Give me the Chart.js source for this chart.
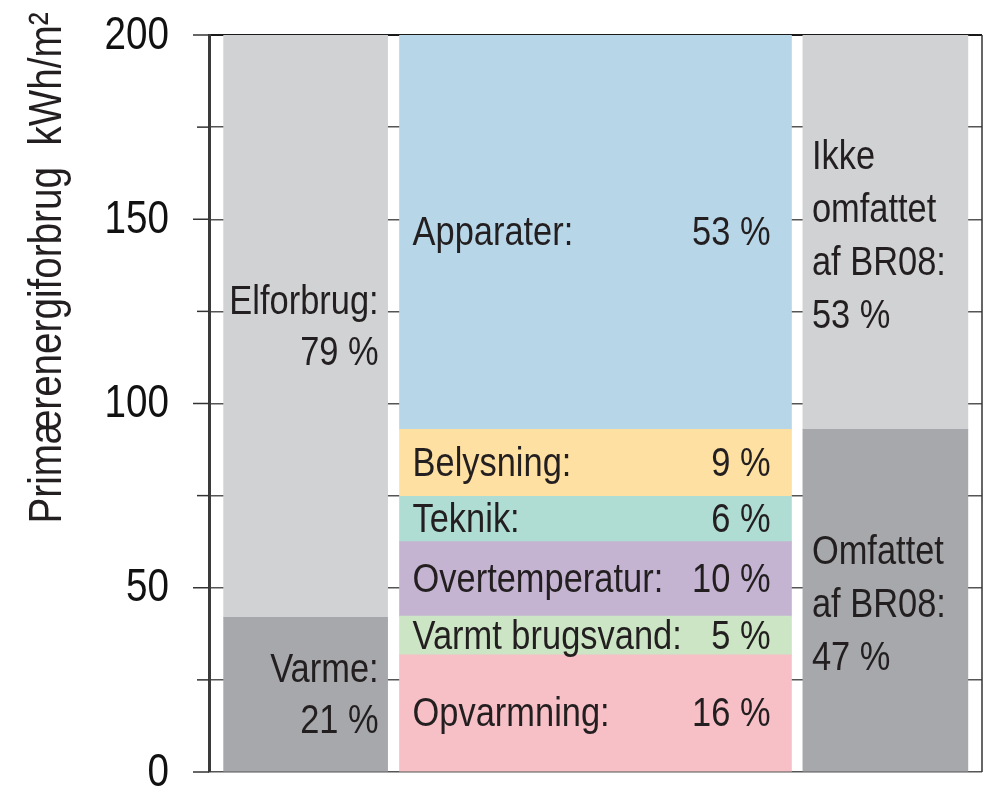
<!DOCTYPE html>
<html lang="da">
  <head>
    <meta charset="UTF-8" />
    <title>Primærenergiforbrug</title>
    <style>
      body {
        margin: 0;
        background: #fff;
      }
      .chart {
        width: 994px;
        height: 792px;
      }
    </style>
  </head>
  <body>
    <div class="chart">
      <canvas id="myChart"></canvas>
    </div>
  </body>
  <script src="https://cdn.jsdelivr.net/npm/chart.js"></script>
  <script>
    // venstre søjle: varme / el
    const leftNames = ["Varme:", "Elforbrug:"];
    const leftValues = [42, 158];
    const leftPct = ["21 %", "79 %"];

    // midterste søjle: forbrugsposter
    const midNames = ["Opvarmning:", "Varmt brugsvand:", "Overtemperatur:", "Teknik:", "Belysning:", "Apparater:"];
    const midValues = [31.8, 10.5, 20.2, 12.3, 18.2, 107];
    const midPct = ["16 %", "5 %", "10 %", "6 %", "9 %", "53 %"];

    // højre søjle: omfattet af BR08
    const rightNames = [["Omfattet", "af BR08:"], ["Ikke", "omfattet", "af BR08:"]];
    const rightValues = [93, 107];
    const rightPct = ["47 %", "53 %"];

    const yTickLabels = [0, 50, 100, 150, 200];
    const yTitle = "Primærenergiforbrug  kWh/m²";

    // ingen smal skrift installeret -> Liberation Sans presset vandret
    const FONT = '"Liberation Sans", Arial, sans-serif';
    const SQUEEZE = 0.84;

    const grayLight = "#d1d2d4";
    const grayDark = "#a7a8ab";
    const midColors = ["#f6c0c6", "#cce5c5", "#c4b4d2", "#b0ddd3", "#fde0a2", "#b7d6e8"];

    const datasets = [];
    leftValues.forEach((v, i) => {
      datasets.push({
        data: [{ x: 0, y: v }],
        backgroundColor: i == 0 ? grayDark : grayLight,
        barThickness: 164,
        side: "left",
        lines: [leftNames[i], leftPct[i]],
      });
    });
    midValues.forEach((v, i) => {
      datasets.push({
        data: [{ x: 1, y: v }],
        backgroundColor: midColors[i],
        barThickness: 392,
        side: "mid",
        name: midNames[i],
        pct: midPct[i],
      });
    });
    rightValues.forEach((v, i) => {
      datasets.push({
        data: [{ x: 2, y: v }],
        backgroundColor: i == 0 ? grayDark : grayLight,
        barThickness: 165,
        side: "right",
        lines: [...rightNames[i], rightPct[i]],
      });
    });

    function narrowText(ctx, text, x, y, align) {
      ctx.save();
      ctx.translate(x, y);
      ctx.scale(SQUEEZE, 1);
      ctx.textAlign = align;
      ctx.fillText(text, 0, 0);
      ctx.restore();
    }

    // tekst i søjlerne, akse-titel, tick-streger/-tal og højre kant
    const extras = {
      id: "extras",
      beforeDatasetsDraw(chart) {
        const { ctx, chartArea } = chart;
        const y = chart.scales.y;
        ctx.save();
        ctx.strokeStyle = "#333";
        ctx.lineWidth = 1.5;
        y.ticks.forEach((t) => {
          const py = y.getPixelForValue(t.value);
          const len = t.value % 50 == 0 ? 16 : 12;
          ctx.beginPath();
          ctx.moveTo(chartArea.left - len, py);
          ctx.lineTo(chartArea.left, py);
          ctx.stroke();
        });
        ctx.beginPath();
        ctx.moveTo(chartArea.right, chartArea.top);
        ctx.lineTo(chartArea.right, chartArea.bottom);
        ctx.stroke();

        ctx.fillStyle = "#111";
        ctx.font = "46px " + FONT;
        ctx.textBaseline = "middle";
        y.ticks.forEach((t) => {
          if (!yTickLabels.includes(t.value)) return;
          narrowText(ctx, String(t.value), chartArea.left - 40, y.getPixelForValue(t.value) + 1, "right");
        });
        ctx.restore();
      },
      afterDatasetsDraw(chart) {
        const ctx = chart.ctx;
        ctx.save();
        ctx.fillStyle = "#231f20";
        ctx.font = "41px " + FONT;
        ctx.textBaseline = "middle";
        chart.data.datasets.forEach((ds, i) => {
          const bar = chart.getDatasetMeta(i).data[0];
          const cy = (bar.y + bar.base) / 2 + 2;
          const left = bar.x - bar.width / 2;
          const right = bar.x + bar.width / 2;
          if (ds.side == "mid") {
            narrowText(ctx, ds.name, left + 13, cy, "left");
            narrowText(ctx, ds.pct, right - 21, cy, "right");
          } else {
            const n = ds.lines.length;
            const step = ds.side == "left" ? 51 : 53;
            const shift = ds.side == "left" ? 0 : 3;
            ds.lines.forEach((line, k) => {
              const ly = cy + shift + (k - (n - 1) / 2) * step;
              if (ds.side == "left") narrowText(ctx, line, right - 9, ly, "right");
              else narrowText(ctx, line, left + 9, ly, "left");
            });
          }
        });
        // y-akse titel
        ctx.translate(48, 268);
        ctx.rotate(-Math.PI / 2);
        ctx.font = "46px " + FONT;
        narrowText(ctx, yTitle, 0, 0, "center");
        ctx.restore();
      },
    };

    const ctx = document.getElementById("myChart");
    new Chart(ctx, {
      type: "bar",
      data: { datasets: datasets },
      options: {
        responsive: true,
        maintainAspectRatio: false,
        animation: false,
        layout: { padding: { top: 35, bottom: 20, right: 12, left: 0 } },
        plugins: {
          legend: { display: false },
          tooltip: { enabled: false },
        },
        scales: {
          x: {
            type: "linear",
            min: -1 / 3,
            max: 7 / 3,
            offset: false,
            stacked: true,
            display: false,
          },
          y: {
            stacked: true,
            min: 0,
            max: 200,
            afterFit: (scale) => {
              scale.width = 209;
            },
            border: { display: true, color: "#3a3a3a", width: 3 },
            grid: {
              drawTicks: false,
              color: (c) => (c.tick && c.tick.value == 200 ? "#1a1a1a" : "#555"),
              lineWidth: (c) => (c.tick && c.tick.value == 200 ? 2 : 1.5),
            },
            ticks: {
              stepSize: 25,
              display: false,
            },
          },
        },
      },
      plugins: [extras],
    });
  </script>
</html>
